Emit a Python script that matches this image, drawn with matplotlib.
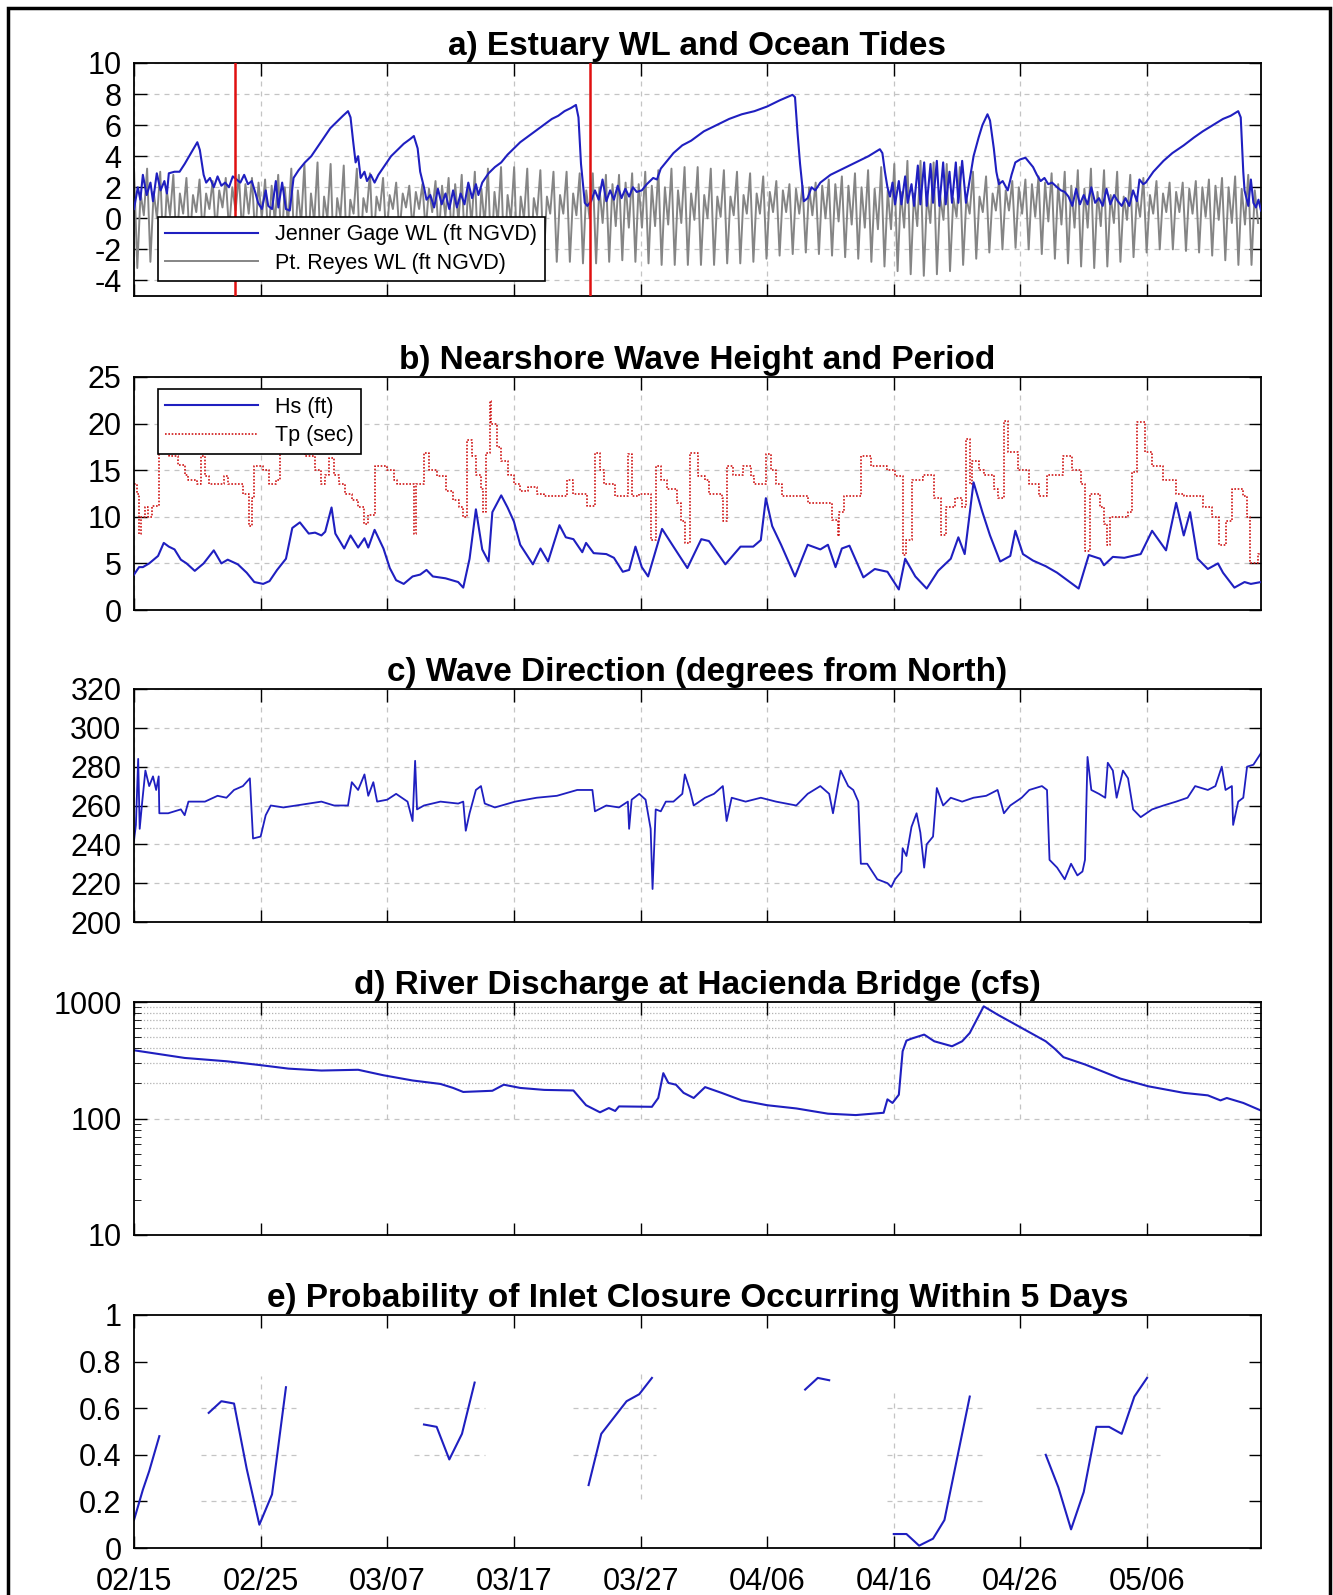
import matplotlib
matplotlib.use("Agg")
import matplotlib.pyplot as plt
from matplotlib.patches import Rectangle
from matplotlib.ticker import LogLocator, NullFormatter

plt.rcParams['font.family'] = ['Liberation Sans', 'DejaVu Sans']
plt.rcParams['axes.unicode_minus'] = False

# x axis: days after 02/15
tick_days = [0, 10, 20, 30, 40, 50, 60, 70, 80]
tick_labels = ['02/15', '02/25', '03/07', '03/17', '03/27', '04/06', '04/16', '04/26', '05/06']
closure_days = [8, 36]          # red markers in panel a (02/23, 03/23)

# --- a) Jenner gage water level (day, ft NGVD)
jenner_day = [0.0, 0.3, 0.5, 0.7, 1.0, 1.3, 1.5, 1.8, 2.1, 2.4, 2.6, 2.75, 3.2, 3.6, 4.0, 4.5, 5.0, 5.2, 5.5, 5.7,
              6.0, 6.3, 6.6, 6.9, 7.2, 7.5, 7.8, 8.1, 8.4, 8.7, 9.0, 9.3, 9.6, 9.8, 10.1, 10.4, 10.6, 10.9, 11.2, 11.4,
              11.7, 12.0, 12.3, 12.6, 13.0, 13.5, 14.0, 14.5, 15.0, 15.5, 16.0, 16.5, 16.9, 17.1, 17.3, 17.5, 17.7, 17.9,
              18.2, 18.4, 18.7, 19.0, 19.3, 19.8, 20.3, 20.8, 21.3, 21.8, 22.1, 22.4, 22.6, 22.9, 23.1, 23.4, 23.7, 24.0,
              24.3, 24.6, 24.9, 25.2, 25.5, 25.8, 26.1, 26.4, 26.7, 27.0, 27.2, 27.5, 28.0, 28.5, 29.0, 29.5, 30.0, 30.5,
              31.0, 31.5, 32.0, 32.5, 33.0, 33.5, 34.0, 34.5, 34.9, 35.1, 35.3, 35.6, 35.8, 36.1, 36.4, 36.7, 37.0, 37.3,
              37.6, 37.9, 38.2, 38.5, 38.8, 39.1, 39.4, 39.7, 40.1, 40.5, 41.0, 41.3, 41.6, 42.0, 42.6, 43.3, 44.0, 45.0,
              46.0, 47.0, 48.0, 49.0, 50.0, 51.0, 52.0, 52.2, 52.4, 52.6, 52.9, 53.2, 53.5, 53.8, 54.2, 55.0, 56.0, 57.0,
              58.0, 58.9, 59.1, 59.3, 59.5, 59.7, 59.9, 60.1, 60.4, 60.6, 60.9, 61.1, 61.4, 61.6, 61.9, 62.1, 62.4, 62.6,
              62.9, 63.1, 63.4, 63.6, 63.9, 64.1, 64.4, 64.6, 64.9, 65.1, 65.4, 65.7, 66.0, 66.3, 66.7, 67.0, 67.4, 67.6,
              67.9, 68.1, 68.3, 68.6, 69.0, 69.3, 69.6, 70.0, 70.4, 70.7, 71.0, 71.3, 71.6, 71.9, 72.2, 72.5, 72.9, 73.2,
              73.5, 73.8, 74.1, 74.4, 74.7, 75.0, 75.3, 75.6, 75.9, 76.2, 76.5, 76.8, 77.1, 77.4, 77.7, 78.0, 78.3, 78.6,
              78.9, 79.2, 79.4, 79.7, 79.9, 80.5, 81.3, 82.0, 82.9, 83.7, 84.4, 85.2, 86.0, 86.6, 87.2, 87.4, 87.6, 87.7,
              88.0, 88.2, 88.4, 88.6, 88.8, 89.0]
jenner_wl = [0.6, 2.0, 1.2, 2.8, 1.5, 2.3, 1.1, 2.9, 1.8, 2.4, 1.6, 2.9, 3.0, 3.0, 3.5, 4.2, 4.9, 4.4, 2.8, 2.3,
             2.6, 2.0, 2.7, 2.1, 2.3, 2.0, 2.7, 2.5, 2.3, 2.8, 2.2, 2.4, 1.6, 1.0, 0.6, 1.8, 0.8, 0.6, 2.4, 0.7,
             2.3, 0.6, 0.5, 2.6, 3.1, 3.6, 4.0, 4.6, 5.2, 5.8, 6.2, 6.6, 6.9, 6.5, 5.0, 3.6, 4.0, 2.6,
             3.0, 2.4, 2.8, 2.3, 2.8, 3.4, 4.0, 4.4, 4.8, 5.1, 5.3, 4.5, 3.0, 2.0, 1.2, 1.5, 0.7, 1.9,
             0.9, 1.6, 0.6, 1.8, 0.7, 1.6, 0.9, 2.3, 1.3, 2.2, 1.5, 2.3, 2.9, 3.3, 3.6, 4.1, 4.5, 4.9,
             5.2, 5.5, 5.8, 6.1, 6.4, 6.6, 6.9, 7.1, 7.3, 6.5, 3.5, 1.0, 0.8, 1.1, 1.8, 1.2, 2.5, 1.1,
             1.8, 1.2, 2.1, 1.3, 1.9, 1.4, 2.0, 1.7, 1.8, 2.2, 2.6, 2.5, 3.2, 3.6, 4.2, 4.7, 5.0, 5.6,
             6.0, 6.4, 6.7, 6.9, 7.2, 7.6, 7.95, 7.8, 5.5, 3.5, 1.1, 1.3, 2.0, 1.8, 2.3, 2.8, 3.2, 3.6,
             4.0, 4.45, 4.2, 3.0, 2.0, 1.4, 2.3, 0.9, 2.4, 0.9, 2.7, 1.0, 2.2, 0.8, 3.4, 0.9, 3.6, 0.8,
             3.5, 1.0, 3.7, 0.8, 3.6, 0.9, 3.0, 1.0, 3.6, 1.0, 3.7, 1.0, 2.5, 4.0, 5.2, 6.0, 6.7, 6.3,
             4.5, 3.0, 2.2, 2.4, 1.8, 2.8, 3.6, 3.8, 3.9, 3.6, 3.3, 2.8, 2.4, 2.6, 2.2, 2.3, 2.0, 1.8,
             1.7, 1.4, 0.8, 1.9, 0.9, 1.5, 0.9, 2.0, 1.0, 1.3, 0.8, 1.9, 0.9, 1.5, 1.1, 0.8, 1.3, 0.8,
             1.8, 1.1, 2.5, 2.2, 2.3, 3.0, 3.7, 4.2, 4.7, 5.2, 5.6, 6.0, 6.4, 6.6, 6.9, 6.5, 3.0, 1.8,
             0.8, 2.5, 1.0, 0.7, 1.2, 0.5]

# --- a) Pt. Reyes tide: successive extremes (high, low, high, low) for each tidal day
tide_step = 0.2588   # days between successive extremes
reyes_ext = [
    [3.2, -3.2, 1.6, 0.2], [3.2, -2.8, 1.7, 0.0], [3.0, -2.4, 1.8, 0.2], [2.8, -2.0, 1.6, 0.3],
    [2.6, -1.6, 1.5, 0.4], [2.5, -1.2, 1.6, 0.6], [2.4, -1.0, 1.8, 0.7], [2.6, -0.8, 2.0, 0.5],
    [2.8, -1.0, 2.2, 0.3], [2.6, -1.3, 2.3, 0.0], [2.5, -1.6, 2.1, -0.3], [2.8, -2.0, 2.0, -0.4],
    [3.2, -2.4, 1.8, -0.3], [3.5, -2.7, 1.6, -0.2], [3.6, -2.9, 1.4, 0.0], [3.5, -3.0, 1.3, 0.1],
    [3.4, -2.8, 1.2, 0.3], [3.2, -2.5, 1.3, 0.4], [2.9, -2.0, 1.4, 0.5], [2.6, -1.5, 1.5, 0.6],
    [2.3, -1.0, 1.6, 0.7], [2.1, -0.7, 1.7, 0.6], [2.2, -0.8, 1.9, 0.4], [2.4, -1.2, 2.1, 0.1],
    [2.6, -1.6, 2.2, -0.2], [2.8, -2.0, 2.1, -0.4], [3.0, -2.4, 1.9, -0.4], [3.2, -2.7, 1.7, -0.3],
    [3.3, -2.9, 1.5, -0.1], [3.3, -3.0, 1.4, 0.0], [3.2, -3.0, 1.3, 0.2], [3.1, -2.9, 1.4, 0.3],
    [3.0, -2.8, 1.5, 0.3], [3.0, -2.8, 1.6, 0.2], [2.9, -2.9, 1.8, 0.0], [2.9, -2.9, 2.0, -0.3],
    [2.8, -2.8, 2.2, -0.5], [2.8, -2.7, 2.3, -0.6], [2.9, -2.8, 2.2, -0.6], [3.0, -2.9, 2.1, -0.5],
    [3.1, -3.0, 2.0, -0.4], [3.2, -3.0, 1.8, -0.3], [3.3, -3.0, 1.6, -0.1], [3.3, -3.0, 1.5, 0.0],
    [3.2, -3.0, 1.4, 0.1], [3.1, -2.9, 1.4, 0.2], [3.0, -2.9, 1.5, 0.3], [2.9, -2.8, 1.6, 0.3],
    [2.7, -2.6, 1.7, 0.4], [2.4, -2.4, 1.8, 0.4], [2.2, -2.3, 1.9, 0.3], [2.1, -2.2, 2.0, 0.2],
    [2.3, -2.3, 2.1, 0.0], [2.5, -2.4, 2.2, -0.2], [2.7, -2.5, 2.1, -0.4], [2.9, -2.6, 2.0, -0.6],
    [3.1, -2.8, 1.9, -0.7], [3.3, -3.1, 1.8, -0.7], [3.5, -3.4, 1.7, -0.6], [3.7, -3.6, 1.6, -0.5],
    [3.7, -3.7, 1.5, -0.3], [3.6, -3.6, 1.4, -0.1], [3.5, -3.4, 1.3, 0.1], [3.3, -3.0, 1.3, 0.3],
    [3.0, -2.6, 1.4, 0.4], [2.7, -2.2, 1.6, 0.5], [2.5, -2.0, 1.8, 0.5], [2.4, -1.9, 2.0, 0.3],
    [2.5, -2.0, 2.2, 0.1], [2.7, -2.3, 2.3, -0.2], [2.9, -2.6, 2.2, -0.4], [3.0, -2.9, 2.1, -0.6],
    [3.1, -3.1, 1.9, -0.6], [3.2, -3.2, 1.7, -0.5], [3.1, -3.1, 1.5, -0.3], [3.0, -2.8, 1.4, -0.1],
    [2.8, -2.5, 1.4, 0.1], [2.6, -2.2, 1.5, 0.3], [2.4, -2.0, 1.6, 0.4], [2.3, -2.0, 1.7, 0.4],
    [2.3, -2.1, 1.9, 0.3], [2.4, -2.2, 2.0, 0.1], [2.5, -2.4, 2.1, -0.1], [2.6, -2.7, 2.0, -0.3],
    [2.7, -3.0, 1.9, -0.4], [2.8, -3.0, 1.8, -0.3]]

# --- b) significant wave height (ft)
hs_day = [0.0, 0.4, 0.7, 1.2, 1.9, 2.35, 2.75, 3.2, 3.7, 4.15, 4.8, 5.5, 6.3, 6.9, 7.4, 8.2, 8.9, 9.5, 10.2, 10.7,
          11.3, 12.0, 12.5, 13.1, 13.8, 14.3, 14.8, 15.1, 15.6, 15.9, 16.6, 17.1, 17.7, 18.2, 18.5, 19.0, 19.7, 20.2,
          20.7, 21.3, 22.0, 22.6, 23.1, 23.6, 24.6, 25.6, 26.0, 26.5, 27.0, 27.5, 28.0, 28.3, 29.0, 29.5, 30.0, 30.5,
          31.5, 32.1, 32.7, 33.6, 34.1, 34.7, 35.4, 35.7, 36.3, 37.3, 37.9, 38.6, 39.1, 39.6, 40.1, 40.6, 41.7, 42.6,
          43.7, 44.8, 45.4, 46.7, 47.9, 48.9, 49.5, 49.9, 50.4, 51.1, 52.2, 53.2, 54.2, 54.8, 55.4, 55.9, 56.5, 57.6,
          58.5, 59.5, 60.4, 60.9, 61.7, 62.6, 63.5, 64.5, 65.1, 65.6, 66.3, 67.0, 67.6, 68.4, 69.2, 69.6, 70.2, 71.0,
          72.0, 72.9, 73.8, 74.6, 75.4, 76.3, 76.6, 77.3, 78.2, 79.5, 80.4, 81.5, 82.3, 82.9, 83.4, 84.0, 84.8, 85.6,
          86.0, 86.9, 87.7, 88.2, 89.0]
hs_ft = [3.8, 4.6, 4.6, 5.0, 5.8, 7.2, 6.8, 6.5, 5.4, 5.0, 4.2, 5.0, 6.4, 5.0, 5.4, 4.9, 4.0, 3.0, 2.8, 3.1,
         4.3, 5.5, 8.8, 9.4, 8.2, 8.3, 8.0, 8.4, 11.0, 8.2, 6.6, 8.0, 6.7, 7.7, 6.7, 8.6, 6.6, 4.5,
         3.2, 2.8, 3.6, 3.8, 4.3, 3.6, 3.4, 3.0, 2.4, 5.5, 10.8, 6.5, 5.2, 10.5, 12.3, 11.0, 9.5, 7.0,
         4.9, 6.6, 5.2, 9.1, 7.8, 7.6, 6.2, 7.2, 6.1, 6.0, 5.6, 4.1, 4.3, 6.8, 4.6, 3.6, 8.7, 6.8,
         4.5, 7.6, 7.4, 4.9, 6.8, 6.8, 7.5, 12.0, 9.0, 7.0, 3.6, 7.0, 6.5, 7.0, 4.6, 6.6, 6.9, 3.5,
         4.4, 4.1, 2.2, 5.5, 3.6, 2.3, 4.2, 5.5, 7.8, 6.0, 13.7, 10.5, 8.0, 5.2, 5.8, 8.5, 6.0, 5.3,
         4.7, 4.0, 3.1, 2.3, 5.9, 5.5, 4.8, 5.7, 5.6, 6.0, 8.5, 6.4, 11.5, 8.0, 10.5, 5.5, 4.4, 5.0,
         4.0, 2.4, 3.0, 2.8, 3.0]

# --- b) peak wave period (sec), stepwise
tp_day = [0.0, 0.23, 0.4, 0.55, 0.9, 1.1, 1.4, 2.0, 2.8, 3.5, 4.0, 4.3, 5.0, 5.3, 5.6, 5.9, 7.1, 7.4, 8.6, 9.05,
          9.3, 9.5, 10.2, 10.7, 11.2, 11.5, 12.5, 13.5, 14.3, 14.8, 15.1, 15.4, 15.8, 16.2, 16.7, 17.2, 17.7, 18.2,
          18.5, 19.0, 20.0, 20.5, 20.8, 22.1, 22.3, 22.9, 23.3, 23.9, 24.6, 25.2, 25.7, 26.0, 26.3, 26.7, 27.0, 27.4,
          27.6, 27.8, 28.1, 28.2, 28.7, 29.0, 29.5, 30.0, 30.5, 31.1, 31.8, 32.4, 34.2, 34.7, 35.8, 36.4, 36.8, 37.1,
          38.0, 39.0, 39.3, 39.9, 40.8, 41.2, 41.6, 42.1, 42.9, 43.2, 43.5, 43.9, 44.5, 45.1, 45.4, 46.4, 46.5, 46.8,
          47.3, 48.1, 48.7, 49.0, 49.9, 50.3, 50.7, 51.2, 53.2, 54.6, 55.1, 55.6, 55.7, 56.1, 57.3, 57.4, 58.2, 59.5,
          60.1, 60.7, 61.0, 61.4, 62.3, 63.2, 63.7, 64.1, 64.8, 65.4, 65.7, 66.0, 66.2, 66.7, 67.1, 67.9, 68.2, 68.7,
          69.0, 69.8, 70.7, 71.5, 72.1, 73.4, 74.1, 74.8, 75.1, 75.5, 76.3, 76.6, 76.8, 77.1, 78.5, 78.8, 79.2, 79.8,
          80.4, 81.3, 82.3, 82.9, 84.4, 85.1, 85.7, 86.2, 86.7, 87.6, 87.9, 88.1, 88.8, 89.0]
tp_sec = [13.5, 12.5, 8.2, 10.0, 11.0, 10.0, 11.2, 17.0, 16.5, 15.6, 14.5, 14.0, 13.5, 16.5, 14.4, 13.5, 14.4, 13.5, 12.5, 9.0,
          12.0, 15.4, 15.0, 13.5, 14.0, 17.0, 18.0, 16.5, 15.0, 13.5, 14.5, 16.3, 14.5, 13.5, 12.5, 11.8, 11.0, 9.2,
          10.2, 15.4, 15.0, 14.0, 13.5, 8.2, 13.5, 16.8, 15.0, 14.4, 12.8, 11.8, 11.0, 10.0, 18.2, 16.5, 14.5, 13.0,
          10.5, 16.8, 22.4, 20.0, 17.5, 16.0, 14.5, 13.5, 12.8, 13.2, 12.4, 12.2, 14.0, 12.4, 11.2, 16.8, 15.0, 13.5,
          12.2, 16.7, 12.2, 12.5, 7.5, 15.4, 14.0, 13.0, 11.5, 9.5, 7.2, 16.8, 14.4, 14.0, 12.5, 12.0, 9.5, 15.4,
          14.5, 15.4, 14.4, 13.5, 16.7, 15.0, 13.5, 12.2, 11.5, 11.5, 9.7, 7.9, 10.5, 12.2, 12.2, 16.5, 15.4, 15.0,
          14.4, 5.9, 7.5, 14.0, 14.5, 12.0, 8.0, 11.0, 12.0, 11.0, 18.3, 13.5, 16.0, 15.0, 14.5, 13.0, 12.0, 20.3,
          17.0, 15.0, 13.5, 12.2, 14.5, 16.5, 15.0, 13.5, 6.3, 12.5, 11.0, 9.2, 7.0, 10.0, 10.5, 14.8, 20.2, 17.0,
          15.5, 14.0, 12.5, 12.2, 11.0, 10.0, 7.0, 9.5, 13.0, 12.2, 10.0, 5.0, 6.0, 6.0]

# --- c) wave direction (degrees from north)
dir_day = [0.0, 0.15, 0.33, 0.45, 0.65, 0.9, 1.2, 1.5, 1.75, 1.95, 2.0, 2.7, 3.7, 4.0, 4.3, 5.6, 6.6, 7.3, 7.9, 8.6,
           9.15, 9.4, 10.0, 10.4, 10.8, 11.8, 12.8, 13.8, 14.8, 15.8, 16.9, 17.2, 17.7, 18.2, 18.5, 18.9, 19.2, 20.0,
           20.7, 21.6, 22.0, 22.2, 22.35, 22.9, 24.2, 25.6, 26.0, 26.2, 26.5, 27.0, 27.4, 27.7, 28.5, 30.1, 31.8, 33.4,
           35.0, 36.2, 36.4, 37.3, 38.3, 39.0, 39.1, 39.3, 39.9, 40.4, 40.8, 40.95, 41.2, 41.6, 42.0, 42.6, 43.3, 43.5,
           43.9, 44.2, 45.1, 45.8, 46.5, 46.8, 47.2, 48.3, 49.5, 50.7, 52.3, 53.2, 54.2, 54.9, 55.2, 55.8, 56.4, 56.8,
           57.2, 57.4, 57.9, 58.3, 58.7, 59.5, 59.8, 60.1, 60.6, 60.7, 61.0, 61.4, 61.8, 62.1, 62.4, 62.6, 63.1, 63.4,
           63.9, 64.5, 65.4, 66.3, 67.3, 68.2, 68.7, 69.2, 70.1, 70.7, 71.7, 72.1, 72.3, 72.9, 73.5, 74.0, 74.5, 74.9,
           75.1, 75.3, 75.6, 76.2, 76.7, 76.9, 77.3, 77.6, 78.1, 78.5, 78.9, 79.5, 80.4, 81.3, 82.3, 83.2, 83.8, 84.8,
           85.4, 85.9, 86.2, 86.7, 86.8, 87.2, 87.6, 87.9, 88.4, 89.0]
dir_deg = [242, 250, 284, 248, 262, 278, 270, 275, 268, 275, 256, 256, 258, 255, 262, 262, 265, 264, 268, 270,
           274, 243, 244, 255, 260, 259, 260, 261, 262, 260, 260, 272, 268, 276, 265, 272, 262, 263,
           266, 262, 252, 283, 258, 260, 262, 261, 262, 247, 256, 268, 270, 261, 259, 262, 264, 265,
           268, 268, 257, 260, 259, 262, 248, 263, 266, 263, 248, 217, 258, 257, 262, 262, 266, 276,
           268, 260, 264, 266, 270, 252, 264, 262, 264, 262, 260, 266, 270, 266, 256, 278, 270, 268,
           262, 230, 230, 226, 222, 220, 218, 222, 226, 238, 234, 249, 256, 246, 228, 240, 244, 269,
           260, 264, 262, 264, 265, 268, 256, 260, 264, 268, 270, 268, 232, 228, 222, 230, 224, 226,
           232, 285, 268, 266, 264, 282, 278, 264, 278, 274, 258, 254, 258, 260, 262, 264, 270, 268,
           270, 280, 268, 270, 250, 262, 264, 280, 281, 287]

# --- d) river discharge at Hacienda Bridge (cfs)
q_day = [0.0, 4.0, 7.3, 10.0, 12.2, 14.8, 17.7, 19.7, 22.0, 24.2, 25.2, 26.0, 28.3, 29.2, 30.5, 32.4, 34.7, 35.7,
         36.8, 37.5, 38.0, 38.3, 40.9, 41.4, 41.8, 42.2, 42.8, 43.4, 44.2, 45.1, 46.4, 48.0, 50.0, 52.3, 54.8, 57.0,
         59.2, 59.5, 59.9, 60.4, 60.7, 61.0, 61.4, 62.4, 63.2, 64.6, 65.4, 66.0, 67.1, 68.2, 70.0, 72.0, 72.7, 73.4,
         75.1, 77.9, 80.1, 82.9, 84.8, 85.8, 86.3, 87.6, 89.0]
q_cfs = [385, 331, 310, 287, 268, 258, 262, 235, 212, 198, 183, 169, 173, 195, 183, 176, 174, 130,
         113, 123, 116, 127, 126, 150, 245, 202, 195, 166, 150, 186, 166, 143, 130, 122, 110, 107,
         112, 146, 136, 160, 378, 466, 485, 525, 460, 417, 460, 542, 918, 779, 607, 460, 398, 336,
         291, 220, 189, 166, 158, 143, 150, 136, 117]

# --- e) probability of inlet closure within 5 days (separate forecast runs)
prob_day = [[0.0, 0.7, 1.2, 2.0],
            [5.9, 6.9, 7.9, 8.9, 9.9, 10.9, 12.0],
            [22.9, 23.9, 24.9, 25.9, 26.9],
            [35.9, 36.9, 37.9, 38.9, 39.9, 40.9],
            [53.0, 54.0, 54.9],
            [60.0, 61.0, 62.0, 63.1, 64.0, 66.0],
            [72.0, 73.0, 74.0, 75.0, 76.0, 77.0, 78.0, 79.0, 80.0]]
prob_val = [[0.12, 0.25, 0.33, 0.48],
            [0.58, 0.63, 0.62, 0.34, 0.10, 0.23, 0.69],
            [0.53, 0.52, 0.38, 0.49, 0.71],
            [0.27, 0.49, 0.56, 0.63, 0.66, 0.73],
            [0.68, 0.73, 0.72],
            [0.06, 0.06, 0.01, 0.04, 0.12, 0.65],
            [0.40, 0.26, 0.08, 0.24, 0.52, 0.52, 0.49, 0.65, 0.73]]

# ---------------------------------------------------------------- figure
W, H = 1333, 1595
fig = plt.figure(figsize=(W / 100, H / 100), dpi=100)
fig.patches.append(Rectangle((8 / W, -0.02), 1322 / W, 1.02 - 8 / H, transform=fig.transFigure,
                             fill=False, edgecolor='black', linewidth=2.5))

left, width = 134 / W, (1261 - 134) / W
tops = [63, 377, 689, 1002, 1315]
ph = 233
axes = [fig.add_axes([left, 1 - (t + ph) / H, width, ph / H]) for t in tops]

blue = '#1f1fc0'
gridkw = dict(color='#c4c4c4', linestyle=(0, (4, 4)), linewidth=0.9)
tfont = dict(fontsize=24, fontweight='bold', pad=6)


def style(ax, grid=True):
    ax.set_xlim(0, 89)
    ax.set_xticks(tick_days)
    ax.set_xticklabels([])
    ax.tick_params(direction='in', length=9, width=1, top=True, right=True, labelsize=22)
    ax.tick_params(axis='y', pad=9)
    ax.tick_params(axis='x', pad=14)
    for s in ax.spines.values():
        s.set_linewidth(1.3)
    if grid:
        ax.grid(True, **gridkw)
    ax.set_axisbelow(True)


# a) water levels
ax = axes[0]
style(ax)
reyes_vals = [v for row in reyes_ext for v in row]
reyes_t = [i * tide_step for i in range(len(reyes_vals))]
ax.plot(jenner_day, jenner_wl, color=blue, lw=1.5, label='Jenner Gage WL (ft NGVD)', zorder=3)
ax.plot(reyes_t, reyes_vals, color='#858585', lw=1.4, label='Pt. Reyes WL (ft NGVD)', zorder=2)
for d in closure_days:
    ax.axvline(d, color='#e01010', lw=1.8, zorder=4)
ax.set_ylim(-5, 10)
ax.set_yticks(range(-4, 11, 2))
ax.set_title('a) Estuary WL and Ocean Tides', **tfont)
leg = ax.legend(loc='lower left', bbox_to_anchor=(0.021, 0.063), borderaxespad=0, fontsize=15.5,
                handlelength=4.3, fancybox=False, framealpha=1, edgecolor='black', borderpad=0.35,
                labelspacing=0.35)
leg.get_frame().set_linewidth(1.2)
leg.set_zorder(10)

# b) waves
ax = axes[1]
style(ax)
ax.plot(hs_day, hs_ft, color=blue, lw=1.5, label='Hs (ft)', zorder=3)
ax.plot(tp_day, tp_sec, color='#d01818', lw=1.2, ls=(0, (1, 1)), drawstyle='steps-post',
        label='Tp (sec)', zorder=2)
ax.set_ylim(0, 25)
ax.set_yticks(range(0, 26, 5))
ax.set_title('b) Nearshore Wave Height and Period', **tfont)
leg = ax.legend(loc='upper left', bbox_to_anchor=(0.021, 0.948), borderaxespad=0, fontsize=15.5,
                handlelength=4.3, fancybox=False, framealpha=1, edgecolor='black', borderpad=0.35,
                labelspacing=0.35)
leg.get_frame().set_linewidth(1.2)
leg.set_zorder(10)

# c) direction
ax = axes[2]
style(ax)
ax.plot(dir_day, dir_deg, color=blue, lw=1.3)
ax.set_ylim(200, 320)
ax.set_yticks(range(200, 321, 20))
ax.set_title('c) Wave Direction (degrees from North)', **tfont)

# d) discharge (log)
ax = axes[3]
style(ax, grid=False)
ax.set_yscale('log')
ax.set_ylim(10, 1000)
ax.set_yticks([10, 100, 1000])
ax.set_yticklabels(['10', '100', '1000'])
ax.yaxis.set_minor_locator(LogLocator(base=10, subs=range(2, 10)))
ax.yaxis.set_minor_formatter(NullFormatter())
ax.tick_params(which='minor', direction='in', length=5, right=True)
for v in range(200, 1000, 100):
    ax.axhline(v, color='#b0b0b0', ls=(0, (1, 1.5)), lw=0.9, zorder=0)
ax.axhline(100, **gridkw, zorder=0)
for d in tick_days[1:]:
    ax.axvline(d, ymin=0.5, ymax=1, **gridkw, zorder=0)
ax.plot(q_day, q_cfs, color=blue, lw=1.5)
ax.set_title('d) River Discharge at Hacienda Bridge (cfs)', **tfont)

# e) probability, grid only around each forecast window
ax = axes[4]
style(ax, grid=False)
grid_windows = [(5.3, 13.1, [0.2, 0.4, 0.6], [10], (0.04, 0.74)),
                (22.1, 27.7, [0.4, 0.6], [], None),
                (34.7, 41.2, [0.4, 0.6], [40], (0.21, 0.77)),
                (59.5, 67.2, [0.2, 0.4, 0.6], [60], (0.0, 0.68)),
                (71.2, 81.0, [0.4, 0.6], [80], (0.0, 0.77))]
for x0, x1, hy, vx, vr in grid_windows:
    ax.hlines(hy, x0, x1, **gridkw, zorder=0)
    for d in vx:
        ax.vlines(d, vr[0], vr[1], **gridkw, zorder=0)
for dd, vv in zip(prob_day, prob_val):
    ax.plot(dd, vv, color=blue, lw=1.5)
ax.set_ylim(0, 1)
ax.set_yticks([0, 0.2, 0.4, 0.6, 0.8, 1])
ax.set_yticklabels(['0', '0.2', '0.4', '0.6', '0.8', '1'])
ax.set_xticklabels(tick_labels)
ax.set_title('e) Probability of Inlet Closure Occurring Within 5 Days', **tfont)

fig.savefig('out.png', dpi=100)
